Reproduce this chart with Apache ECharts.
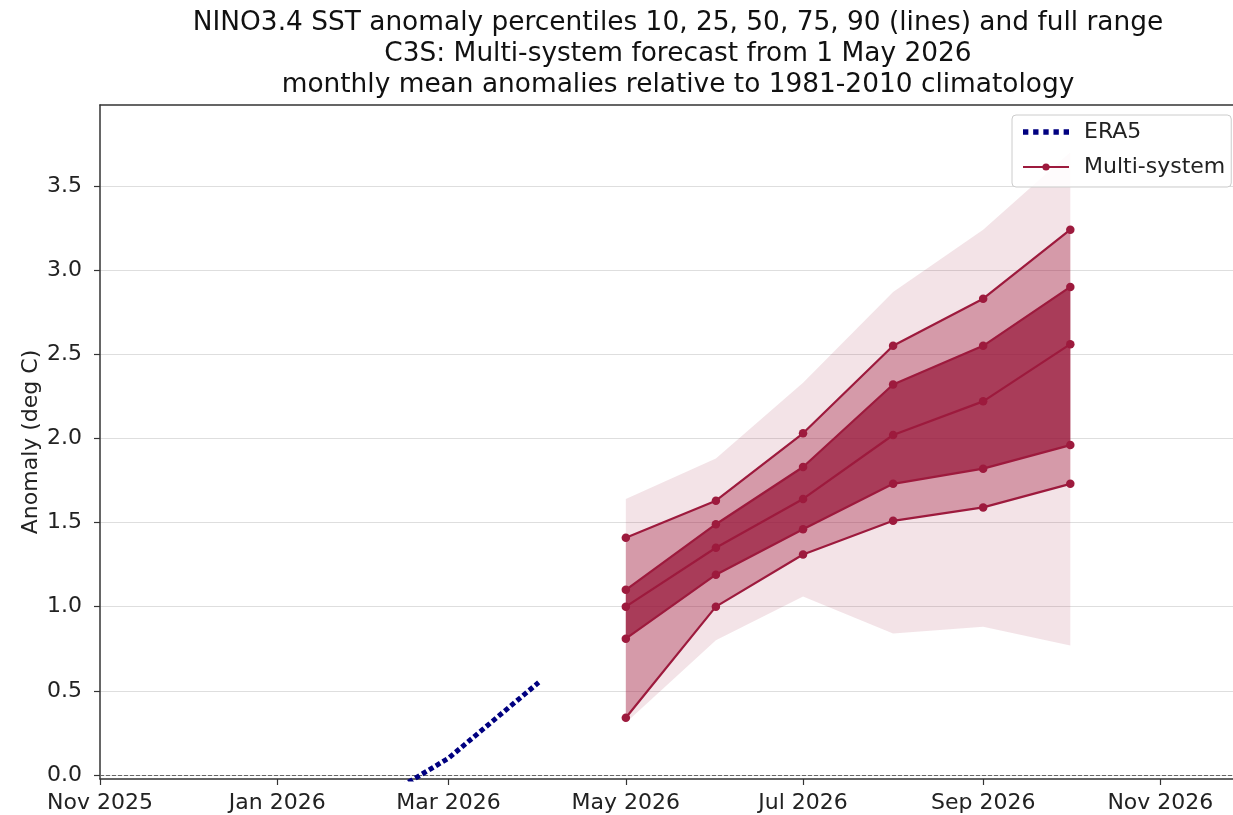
<!DOCTYPE html>
<html>
<head>
<meta charset="utf-8">
<script src="https://cdn.jsdelivr.net/npm/echarts@6/dist/echarts.min.js"></script>
<style>
html,body{margin:0;padding:0;background:#fff;overflow:hidden;}
#chart{width:1233px;height:815px;}
</style>
</head>
<body>
<div id="chart"></div>
<script>
// ---- data ----
const forecastMonths = ['2026-05-01','2026-06-01','2026-07-01','2026-08-01','2026-09-01','2026-10-01'];
const p90 = [1.41, 1.63, 2.03, 2.55, 2.83, 3.24];
const p75 = [1.10, 1.49, 1.83, 2.32, 2.55, 2.90];
const p50 = [1.00, 1.35, 1.64, 2.02, 2.22, 2.56];
const p25 = [0.81, 1.19, 1.46, 1.73, 1.82, 1.96];
const p10 = [0.34, 1.00, 1.31, 1.51, 1.59, 1.73];
const rangeMax = [1.64, 1.88, 2.33, 2.87, 3.24, 3.70];
const rangeMin = [0.31, 0.80, 1.06, 0.84, 0.88, 0.77];
const era5Months = ['2026-02-01','2026-03-01','2026-04-01'];
const era5 = [-0.19, 0.10, 0.55];
const yTicks = [0.0, 0.5, 1.0, 1.5, 2.0, 2.5, 3.0, 3.5];
const xTickDates = ['2025-11-01','2026-01-01','2026-03-01','2026-05-01','2026-07-01','2026-09-01','2026-11-01'];
const xTickLabels = ['Nov 2025','Jan 2026','Mar 2026','May 2026','Jul 2026','Sep 2026','Nov 2026'];
const xStart = '2025-11-01', xEnd = '2026-11-26';

// ---- helpers ----
const ts = s => Date.UTC(+s.slice(0,4), +s.slice(5,7)-1, +s.slice(8,10));
const fT = forecastMonths.map(ts);
const xTickTs = xTickDates.map(ts);
const LINE = '#9d1a3d';
const FONT = 'DejaVu Sans';
const ERA5_ICON = 'path://M0,0h5v5h-5zM9.5,0h5v5h-5zM19,0h5v5h-5zM28.5,0h5v5h-5zM38,0h5v5h-5z';

function band(lower, upper, fill, z) {
  return {
    type: 'custom', silent: true, z: z,
    data: fT.map((t, i) => [t, lower[i], upper[i]]),
    encode: { x: 0, y: [1, 2] },
    renderItem: (params, api) => {
      if (params.dataIndex !== 0) return null;
      const pts = [];
      for (let i = 0; i < fT.length; i++) pts.push(api.coord([fT[i], upper[i]]));
      for (let i = fT.length - 1; i >= 0; i--) pts.push(api.coord([fT[i], lower[i]]));
      return { type: 'polygon', shape: { points: pts }, style: { fill: fill } };
    }
  };
}
function pLine(vals) {
  return {
    type: 'line', name: 'Multi-system', z: 5,
    data: fT.map((t, i) => [t, vals[i]]),
    symbol: 'circle', symbolSize: 8.5, showSymbol: true,
    lineStyle: { color: LINE, width: 2.2 },
    itemStyle: { color: LINE },
    emphasis: { disabled: true }
  };
}

const chart = echarts.init(document.getElementById('chart'), null, { renderer: 'canvas' });
chart.setOption({
  animation: false,
  backgroundColor: '#fff',
  title: {
    text: 'NINO3.4 SST anomaly percentiles 10, 25, 50, 75, 90 (lines) and full range\nC3S: Multi-system forecast from 1 May 2026\nmonthly mean anomalies relative to 1981-2010 climatology',
    left: 673, top: 3, textAlign: 'center',
    textStyle: { fontFamily: FONT, fontSize: 26.4, fontWeight: 'normal', color: '#111', lineHeight: 31 }
  },
  legend: {
    data: [{ name: 'ERA5', icon: ERA5_ICON }, { name: 'Multi-system' }],
    orient: 'vertical', left: 1012, top: 115,
    padding: [4, 6, 7, 10], itemGap: 9,
    itemWidth: 46, itemHeight: 9,
    borderColor: '#cccccc', borderWidth: 1, borderRadius: 4,
    backgroundColor: 'rgba(255,255,255,0.85)',
    textStyle: { fontFamily: FONT, fontSize: 22, color: '#222', lineHeight: 26, padding: [0, 0, 0, 10] }
  },
  grid: {
    left: 100, top: 105, right: 0, bottom: 36,
    show: false
  },
  xAxis: [{
    type: 'value', min: ts(xStart), max: ts(xEnd),
    axisLine: { show: true, onZero: false, lineStyle: { color: '#333', width: 1.5 } },
    axisTick: { show: true, length: 6, lineStyle: { color: '#333', width: 1.2 }, customValues: xTickTs },
    axisLabel: {
      customValues: xTickTs, margin: 13,
      fontFamily: FONT, fontSize: 22, color: '#222',
      formatter: v => { const k = xTickTs.indexOf(v); return k >= 0 ? xTickLabels[k] : ''; }
    },
    splitLine: { show: false }
  }, {
    type: 'value', position: 'top', min: ts(xStart), max: ts(xEnd),
    axisLine: { show: true, onZero: false, lineStyle: { color: '#333', width: 1.5 } },
    axisTick: { show: false }, axisLabel: { show: false }, splitLine: { show: false }
  }],
  yAxis: {
    type: 'value', min: -0.024, max: 3.981,
    name: 'Anomaly (deg C)', nameLocation: 'middle', nameGap: 58, nameRotate: 90,
    nameMoveOverlap: false,
    nameTextStyle: { fontFamily: FONT, fontSize: 22, color: '#222' },
    axisLine: { show: true, lineStyle: { color: '#333', width: 1.5 } },
    axisTick: { show: true, length: 6, lineStyle: { color: '#333', width: 1.2 }, customValues: yTicks },
    axisLabel: {
      customValues: yTicks, margin: 18,
      fontFamily: FONT, fontSize: 22, color: '#222',
      formatter: v => v.toFixed(1)
    },
    splitLine: { show: true, lineStyle: { color: '#dedede', width: 1.2 } }
  },
  series: [
    band(rangeMin, rangeMax, 'rgba(160,24,60,0.12)', 1),
    band(p10, p90, 'rgba(160,24,60,0.36)', 2),
    band(p25, p75, 'rgba(150,20,55,0.70)', 3),
    pLine(p90), pLine(p75), pLine(p50), pLine(p25), pLine(p10),
    {
      type: 'line', name: 'ERA5', z: 6,
      data: era5Months.map((m, i) => [ts(m), era5[i]]),
      showSymbol: false, symbol: 'none', clip: true,
      lineStyle: { color: '#000080', width: 5, type: [5, 3], cap: 'butt' },
      itemStyle: { color: '#000080' },
      emphasis: { disabled: true },
      markLine: {
        silent: true, symbol: 'none', label: { show: false },
        lineStyle: { color: '#666', width: 1, type: [4, 2] },
        data: [{ yAxis: 0 }]
      }
    }
  ]
});
</script>
</body>
</html>
